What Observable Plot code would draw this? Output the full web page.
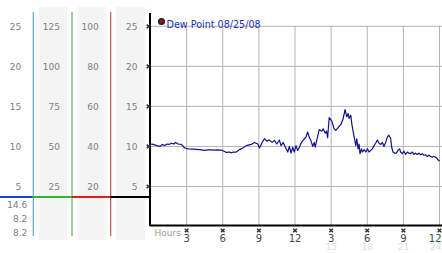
<!DOCTYPE html>
<html><head><meta charset="utf-8">
<script src="https://cdn.jsdelivr.net/npm/d3@7"></script>
<script src="https://cdn.jsdelivr.net/npm/@observablehq/plot@0.6"></script>
<style>
body{margin:0;background:#fff;}
#chart{position:relative;width:442px;height:253px;overflow:hidden;font-family:"DejaVu Sans";}
#chart > div{position:absolute;}
#chart svg{background:transparent;}
</style></head><body><div id="chart"><div id="leftTop" style="left:0;top:0"></div><div id="leftStats" style="left:0;top:196px"></div><div id="main" style="left:146px;top:0"></div></div>
<script>
// ---- data ----
const title = "Dew Point 08/25/08";
const hours = [0,0.25,0.50,0.77,0.99,1.18,1.38,1.55,1.74,1.93,2.09,2.29,2.57,2.84,3.12,3.53,4.08,4.49,4.78,5.05,5.32,5.60,5.96,6.15,6.29,6.56,6.70,6.89,7.12,7.39,7.67,7.95,8.36,8.63,8.91,9.05,9.27,9.46,9.66,9.87,10.10,10.29,10.49,10.70,10.84,11.03,11.20,11.40,11.53,11.67,11.81,11.94,12.08,12.22,12.36,12.50,12.69,12.91,13.05,13.18,13.32,13.47,13.60,13.68,13.88,14.01,14.23,14.34,14.51,14.62,14.71,14.84,15.06,15.25,15.39,15.62,15.81,16.00,16.16,16.30,16.41,16.49,16.63,16.72,16.86,16.97,17.05,17.13,17.24,17.32,17.40,17.52,17.60,17.74,17.88,18.02,18.15,18.29,18.43,18.56,18.70,18.84,18.98,19.12,19.26,19.39,19.53,19.67,19.80,19.95,20.03,20.14,20.28,20.42,20.55,20.69,20.77,20.91,21.05,21.19,21.33,21.46,21.60,21.74,21.87,22.01,22.15,22.29,22.43,22.57,22.70,22.84,22.98,23.12,23.26,23.40,23.53,23.75,23.89,23.98];
const dewPoint = [10.3,10.25,10.1,10.0,10.25,10.1,10.3,10.25,10.4,10.3,10.5,10.3,10.25,9.8,9.7,9.66,9.6,9.5,9.58,9.58,9.55,9.58,9.5,9.37,9.25,9.3,9.2,9.3,9.3,9.6,9.8,10.1,10.25,10.5,10.3,9.8,10.5,10.96,10.66,10.8,10.5,10.75,10.3,10.8,10.1,10.5,9.9,9.3,10.0,9.16,9.9,9.3,10.1,9.5,9.9,10.4,10.8,11.16,11.8,11.16,10.75,10.0,10.5,9.9,11.25,12.1,11.9,12.2,11.66,11.9,11.1,13.6,13.16,12.2,12.0,12.4,12.75,13.46,14.6,13.7,14.1,13.5,13.9,12.8,11.6,10.75,10.1,10.96,9.7,10.3,9.1,9.7,9.3,9.6,9.3,9.7,9.3,9.5,9.7,10.1,10.4,10.8,10.4,10.25,10.5,10.0,10.5,11.16,11.4,10.96,9.9,9.3,9.16,9.16,9.5,9.7,9.3,9.1,9.4,9.0,9.3,9.16,9.1,9.3,9.0,9.16,9.0,9.16,8.96,9.1,8.9,8.96,8.75,8.9,8.75,8.66,8.75,8.6,8.3,8.2];
const yTicks = [5, 10, 15, 20, 25];
const xTicks = [3, 6, 9, 12, 15, 18, 21, 24];
const xTickLabels = ["3", "6", "9", "12", "3", "6", "9", "12"];
const xAltTicks = [15, 18, 21, 24];
const xAltLabels = ["15", "18", "21", "24"];
const axisName = "Hours";
// left-hand scale panel: 4 columns
const columnEdges = [1, 2, 3, 4];
const colLabels1 = ["25", "20", "15", "10", "5"];
const colLabels2 = ["125", "100", "75", "50", "25"];
const colLabels3 = ["100", "80", "60", "40", "20"];
const colLabels4 = ["25", "20", "15", "10", "5"];
const shadedColumns = [2, 3, 4];
const separatorEdges = [1, 2, 3];
const separatorColors = ["#3a9ad0", "#3aa53a", "#b03030"];
const dividerColors = ["#1a3fd6", "#2fb52f", "#e02020", "#000000"];
const statKeys = ["max", "min", "last"];

// ---- derived tables ----
const series = hours.map((h, i) => ({hour: h, dew: dewPoint[i]}));
const allColLabels = [colLabels1, colLabels2, colLabels3, colLabels4];
const leftLabels = allColLabels.flatMap((labels, c) =>
  labels.map((t, i) => ({edge: columnEdges[c], level: yTicks[yTicks.length - 1 - i], label: t})));
const stats = [
  {key: "max", value: d3.max(dewPoint).toFixed(1)},
  {key: "min", value: d3.min(dewPoint).toFixed(1)},
  {key: "last", value: dewPoint[dewPoint.length - 1].toFixed(1)}
];
const separators = separatorEdges.map((e, i) => ({edge: e, color: separatorColors[i]}));
const dividers = columnEdges.map((e, i) => ({edge: e, color: dividerColors[i]}));
const xLabelTable = xTicks.map((t, i) => ({t, label: xTickLabels[i]}));
const xAltTable = xAltTicks.map((t, i) => ({t, label: xAltLabels[i]}));
const lastTick = xTicks[xTicks.length - 1];

const baseStyle = {fontFamily: "DejaVu Sans", fontSize: "9px", background: "transparent"};
const xLeft = {domain: [0, 4], range: [-6, 149], axis: null};

const leftTop = Plot.plot({
  width: 150, height: 196, marginTop: 7, marginBottom: 0, marginLeft: 0, marginRight: 0,
  x: xLeft,
  y: {domain: [3.8, 27.4], axis: null},
  style: baseStyle,
  marks: [
    Plot.rect(shadedColumns, {x1: d => d - 1, x2: d => d, fill: "#f4f4f4", insetLeft: 6, insetRight: 4}),
    Plot.ruleX(separators, {x: "edge", stroke: "color", insetTop: 5}),
    Plot.text(leftLabels, {x: "edge", y: "level", text: "label", textAnchor: "end", dx: -12, fill: "#808080"})
  ]
});
document.getElementById("leftTop").append(leftTop);

const leftStats = Plot.plot({
  width: 150, height: 57, marginTop: 0, marginBottom: 13, marginLeft: 0, marginRight: 0,
  x: xLeft,
  y: {type: "point", domain: statKeys, range: [8.5, 37], padding: 0, axis: null},
  style: baseStyle,
  marks: [
    Plot.rect(shadedColumns, {x1: d => d - 1, x2: d => d, fill: "#f4f4f4", insetLeft: 6, insetRight: 4}),
    Plot.ruleX(separators, {x: "edge", stroke: "color", insetBottom: 4}),
    Plot.rect(dividers, {x1: d => d.edge - 1, x2: "edge", fill: "color", insetBottom: 42}),
    Plot.text(stats, {x: () => 1, y: "key", text: "value", textAnchor: "end", dx: -6, fill: "#808080"})
  ]
});
document.getElementById("leftStats").append(leftStats);

const main = Plot.plot({
  width: 296, height: 253, marginLeft: 4, marginRight: 3, marginTop: 13, marginBottom: 27,
  x: {domain: [0, 24], axis: null},
  y: {domain: [0, 26.6], axis: null},
  style: baseStyle,
  marks: [
    Plot.ruleY(yTicks, {stroke: "#b5b5b5", insetRight: -3}),
    Plot.ruleX(xTicks, {y1: 0, y2: 25, stroke: "#b5b5b5"}),
    Plot.line(series, {x: "hour", y: "dew", stroke: "#12128f", strokeWidth: 1.2}),
    Plot.ruleX([0], {y1: 0, y2: 26.6, stroke: "#000", strokeWidth: 2, dx: -0.5}),
    Plot.ruleY([0], {stroke: "#000", strokeWidth: 2, insetRight: -3, dy: -1}),
    Plot.dot(yTicks, {x: 0, y: d => d, symbol: "times", r: 1.8, stroke: "#333", dx: -2}),
    Plot.dot(xTicks, {x: d => d, y: 0, symbol: "times", r: 1.8, stroke: "#333", dy: 4}),
    Plot.text(xLabelTable.filter(d => d.t !== lastTick), {x: "t", y: 0, text: "label", dy: 12, fill: "#454545", fontSize: 10}),
    Plot.text(xLabelTable.filter(d => d.t === lastTick), {x: "t", y: 0, text: "label", dy: 12, dx: 2, textAnchor: "end", fill: "#454545", fontSize: 10}),
    Plot.text(xAltTable.filter(d => d.t !== lastTick), {x: "t", y: 0, text: "label", dy: 21, fill: "#dddddd"}),
    Plot.text(xAltTable.filter(d => d.t === lastTick), {x: "t", y: 0, text: "label", dy: 21, dx: 2, textAnchor: "end", fill: "#dddddd"}),
    Plot.text([axisName], {x: 0, y: 0, text: d => d, dx: 4, dy: 7, textAnchor: "start", fill: "#999999"}),
    Plot.dot([title], {frameAnchor: "top-left", dx: 11, dy: 8, r: 2.8, fill: "#9b1515", stroke: "#222"}),
    Plot.text([title], {frameAnchor: "top-left", text: d => d, dx: 16, dy: 8, textAnchor: "start", fill: "#2233bb", fontSize: 9.6})
  ]
});
document.getElementById("main").append(main);
</script>
</body></html>
